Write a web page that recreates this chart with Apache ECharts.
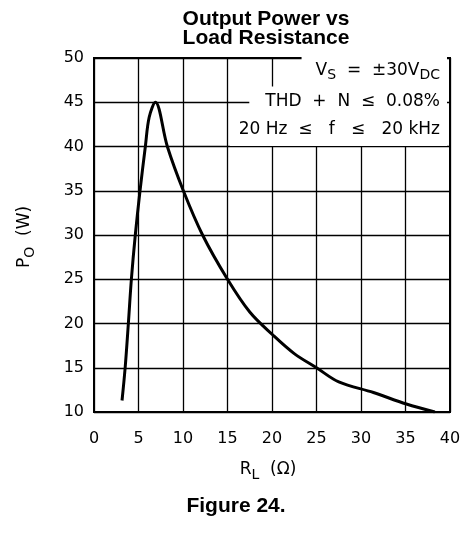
<!DOCTYPE html>
<html>
<head>
<meta charset="utf-8">
<script src="https://cdn.jsdelivr.net/npm/echarts@6/dist/echarts.min.js"></script>
<style>
html,body{margin:0;padding:0;background:#fff;}
#c{width:466px;height:533px;}
</style>
</head>
<body>
<div id="c"></div>
<script>
// Data
var loadResistance = [3.15, 3.5, 3.86, 4.2, 4.64, 5.17, 5.77, 6.2, 6.89, 8.24, 10.04, 12.2, 15.0, 17.5, 20.1, 22.5, 25.0, 27.5, 31.4, 35.1, 38.3];
var outputPower   = [11.3, 15.0, 20.0, 25.0, 30.0, 35.0, 40.0, 43.3, 45.0, 40.0, 35.0, 30.0, 25.0, 21.3, 18.7, 16.6, 15.0, 13.4, 12.2, 10.9, 10.0];
var xTicks = [0, 5, 10, 15, 20, 25, 30, 35, 40];
var yTicks = [10, 15, 20, 25, 30, 35, 40, 45, 50];

var points = loadResistance.map(function (r, i) { return [r, outputPower[i]]; });

var chart = echarts.init(document.getElementById('c'), null, {renderer: 'canvas'});
var labFont = 'DejaVu Sans';
var annFont = {fontFamily: labFont, fontSize: 17, color: '#000'};
chart.setOption({
  animation: false,
  backgroundColor: '#fff',
  title: {
    text: 'Output Power vs\nLoad Resistance',
    left: 261, textAlign: 'center', top: 5,
    textStyle: {fontFamily: 'Liberation Sans', fontWeight: 'bold', fontSize: 21, lineHeight: 19, color: '#000'}
  },
  grid: {left: 94, right: 16, top: 58, bottom: 121, containLabel: false},
  xAxis: {
    type: 'value', min: xTicks[0], max: xTicks[xTicks.length - 1], interval: 5,
    axisLine: {show: true, lineStyle: {color: '#000', width: 2}},
    axisTick: {show: false},
    splitLine: {show: true, lineStyle: {color: '#000', width: 1.3}},
    axisLabel: {color: '#000', fontFamily: labFont, fontSize: 16, margin: 19}
  },
  yAxis: {
    type: 'value', min: yTicks[0], max: yTicks[yTicks.length - 1], interval: 5,
    axisLine: {show: true, lineStyle: {color: '#000', width: 2}},
    axisTick: {show: false},
    splitLine: {show: true, lineStyle: {color: '#000', width: 1.3}},
    axisLabel: {color: '#000', fontFamily: labFont, fontSize: 16, margin: 10}
  },
  series: [{
    type: 'line', data: points, smooth: 0.35, symbol: 'none',
    lineStyle: {color: '#000', width: 3}, z: 5
  }],
  graphic: [
    {type: 'rect', z: 1, silent: true, shape: {x: 94, y: 58, width: 356, height: 354}, style: {fill: 'none', stroke: '#000', lineWidth: 2}},
    {type: 'text', z: 100, x: 447, y: 72, style: {
      text: '{a|V}{s|S}{a|  =  ±30V}{s|DC}', align: 'right', verticalAlign: 'middle',
      backgroundColor: '#fff', padding: [3, 7, 6, 14],
      rich: {a: annFont, s: {fontFamily: labFont, fontSize: 14, color: '#000', padding: [10, 0, 0, 0]}}
    }},
    {type: 'text', z: 100, x: 447, y: 102, style: {
      text: 'THD  +  N  ≤  0.08%', align: 'right', verticalAlign: 'middle',
      backgroundColor: '#fff', padding: [8, 7, 6, 16], fontFamily: labFont, fontSize: 17, fill: '#000'
    }},
    {type: 'text', z: 100, x: 447, y: 130, style: {
      text: '20 Hz  ≤   f   ≤   20 kHz', align: 'right', verticalAlign: 'middle',
      backgroundColor: '#fff', padding: [6, 7, 9, 9], fontFamily: labFont, fontSize: 17, fill: '#000'
    }},
    {type: 'text', z: 100, x: 268, y: 470, style: {
      text: '{a|R}{s|L}{a|  (Ω)}', align: 'center', verticalAlign: 'middle',
      rich: {a: {fontFamily: labFont, fontSize: 17, color: '#000'}, s: {fontFamily: labFont, fontSize: 14, color: '#000', padding: [10, 0, 0, 0]}}
    }},
    {type: 'text', z: 100, x: 25, y: 237, rotation: Math.PI / 2, style: {
      text: '{a|P}{s|O}{a|  (W)}', align: 'center', verticalAlign: 'middle',
      rich: {a: {fontFamily: labFont, fontSize: 17, color: '#000'}, s: {fontFamily: labFont, fontSize: 14, color: '#000', padding: [10, 0, 0, 0]}}
    }},
    {type: 'text', z: 100, x: 236, y: 506, style: {
      text: 'Figure 24.', align: 'center', verticalAlign: 'middle',
      fontFamily: 'Liberation Sans', fontWeight: 'bold', fontSize: 21, fill: '#000'
    }}
  ]
});
</script>
</body>
</html>
